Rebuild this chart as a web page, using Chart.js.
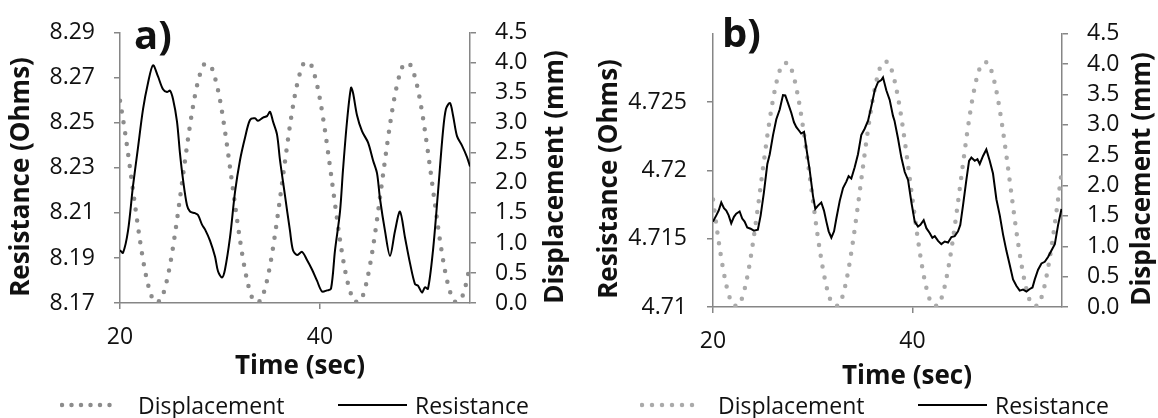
<!DOCTYPE html>
<html>
<head>
<meta charset="utf-8">
<script src="https://cdn.jsdelivr.net/npm/chart.js@4.4.0/dist/chart.umd.min.js"></script>
<style>
  body { margin: 0; background: #fff; }
  #wrap { position: relative; width: 1158px; height: 418px; overflow: hidden; }
  canvas { position: absolute; top: 0; }
  .key { position: absolute; top: 400px; height: 10px; }
  .key svg { display: block; }
  .keytext { position: absolute; top: 391px; font: 23px "Open Sans"; line-height: 28px; color: #111; white-space: nowrap; }
</style>
</head>
<body>
<div id="wrap">
  <canvas id="chartA" width="579" height="418" style="left:0"></canvas>
  <canvas id="chartB" width="579" height="418" style="left:579px"></canvas>

  <div class="key" style="left:60px"><svg width="62" height="10"><line x1="2" y1="5" x2="59" y2="5" stroke="#8c8c8c" stroke-width="4.5" stroke-dasharray="0 9.5" stroke-linecap="round"/></svg></div>
  <div class="keytext" style="left:138px">Displacement</div>
  <div class="key" style="left:338px"><svg width="70" height="10"><line x1="0" y1="5" x2="69" y2="5" stroke="#000" stroke-width="2"/></svg></div>
  <div class="keytext" style="left:415px">Resistance</div>

  <div class="key" style="left:640px"><svg width="66" height="10"><line x1="2" y1="5" x2="62" y2="5" stroke="#aaaaaa" stroke-width="4.5" stroke-dasharray="0 10" stroke-linecap="round"/></svg></div>
  <div class="keytext" style="left:718px">Displacement</div>
  <div class="key" style="left:918px"><svg width="70" height="10"><line x1="0" y1="5" x2="69" y2="5" stroke="#000" stroke-width="2"/></svg></div>
  <div class="keytext" style="left:995px">Resistance</div>
</div>

<script>
// displacement is sampled every 0.5 s, same clock for both runs
const dispTime = [
  20, 20.5, 21, 21.5, 22, 22.5, 23, 23.5, 24, 24.5, 25, 25.5, 26, 26.5, 27, 27.5, 28, 28.5, 29, 29.5,
  30, 30.5, 31, 31.5, 32, 32.5, 33, 33.5, 34, 34.5, 35, 35.5, 36, 36.5, 37, 37.5, 38, 38.5, 39, 39.5,
  40, 40.5, 41, 41.5, 42, 42.5, 43, 43.5, 44, 44.5, 45, 45.5, 46, 46.5, 47, 47.5, 48, 48.5, 49, 49.5,
  50, 50.5, 51, 51.5, 52, 52.5, 53, 53.5, 54, 54.5, 55
];

const dispA = [
  3.37, 2.85, 2.25, 1.63, 1.04, 0.54, 0.19, 0.02, 0.04, 0.25, 0.63, 1.15, 1.75, 2.37, 2.96, 3.46, 3.81, 3.98, 3.96, 3.75,
  3.38, 2.86, 2.26, 1.64, 1.05, 0.55, 0.19, 0.02, 0.03, 0.24, 0.62, 1.14, 1.74, 2.36, 2.96, 3.47, 3.83, 4.01, 3.99, 3.77,
  3.39, 2.87, 2.27, 1.65, 1.05, 0.55, 0.20, 0.02, 0.03, 0.24, 0.63, 1.15, 1.76, 2.38, 2.97, 3.47, 3.82, 3.99, 3.97, 3.76,
  3.38, 2.86, 2.26, 1.64, 1.04, 0.54, 0.19, 0.02, 0.04, 0.25, 0.63
];

const dispB = [
  1.77, 1.16, 0.64, 0.25, 0.04, 0.02, 0.19, 0.55, 1.05, 1.64, 2.27, 2.88, 3.40, 3.79, 4.00, 4.02, 3.85, 3.49, 2.99, 2.40,
  1.78, 1.17, 0.65, 0.26, 0.05, 0.02, 0.18, 0.54, 1.04, 1.63, 2.26, 2.87, 3.40, 3.80, 4.02, 4.04, 3.86, 3.50, 3.00, 2.41,
  1.78, 1.17, 0.64, 0.25, 0.04, 0.02, 0.19, 0.55, 1.05, 1.64, 2.27, 2.88, 3.41, 3.80, 4.01, 4.03, 3.85, 3.49, 2.99, 2.40,
  1.77, 1.16, 0.64, 0.25, 0.04, 0.02, 0.19, 0.55, 1.05, 1.64, 2.27
];

// run a) resistance
const resTimeA = [
  20.0, 20.3, 20.8, 21.3, 21.8, 22.3, 22.8, 23.3, 23.8, 24.3, 24.7, 25.0, 25.3, 25.7, 26.0, 26.3, 26.7, 27.0, 27.5, 27.8,
  28.2, 28.5, 29.0, 29.5, 29.8, 30.2, 30.5, 31.0, 31.5, 32.0, 32.5, 33.0, 33.5, 33.8, 34.3, 34.7, 35.0, 35.3, 35.7, 36.0,
  36.5, 37.0, 37.3, 37.7, 38.2, 38.7, 39.2, 39.7, 40.2, 40.7, 41.1, 41.5, 42.0, 42.3, 42.7, 43.1, 43.3, 43.7, 44.2, 44.8,
  45.3, 45.7, 46.0, 46.5, 47.0, 47.5, 48.0, 48.5, 49.0, 49.5, 49.8, 50.2, 50.5, 50.8, 51.3, 51.8, 52.3, 52.6, 53.0, 53.3,
  53.7, 54.2, 54.7, 55.0
];
const resA = [
  8.1934, 8.1923, 8.2020, 8.2220, 8.2390, 8.2560, 8.2677, 8.2756, 8.2706, 8.2649, 8.2637, 8.2643, 8.2606, 8.2506, 8.2363, 8.2249, 8.2134, 8.2106, 8.2099, 8.2091,
  8.2048, 8.2027, 8.1977, 8.1906, 8.1841, 8.1813, 8.1849, 8.1991, 8.2192, 8.2334, 8.2434, 8.2513, 8.2520, 8.2509, 8.2523, 8.2530, 8.2549, 8.2506, 8.2449, 8.2334,
  8.2177, 8.2020, 8.1934, 8.1913, 8.1927, 8.1891, 8.1849, 8.1799, 8.1751, 8.1756, 8.1763, 8.1934, 8.2106, 8.2291, 8.2506, 8.2656, 8.2634, 8.2534, 8.2463, 8.2413,
  8.2334, 8.2277, 8.2163, 8.2020, 8.1909, 8.2020, 8.2106, 8.1991, 8.1877, 8.1784, 8.1777, 8.1746, 8.1770, 8.1763, 8.1934, 8.2192, 8.2463, 8.2563, 8.2588, 8.2534,
  8.2441, 8.2399, 8.2348, 8.2306
];

// run b) resistance
const resTimeB = [
  20.0, 20.33, 20.57, 20.83, 21.1, 21.33, 21.57, 21.83, 22.1, 22.33,
  22.67, 22.93, 23.17, 23.43, 23.77, 24.1, 24.5, 24.78, 25.1, 25.45,
  25.69, 26.02, 26.35, 26.69, 27.02, 27.25, 27.52, 27.85, 28.12, 28.36,
  28.6, 28.84, 29.13, 29.36, 29.7, 30.03, 30.26, 30.53, 30.86, 31.13,
  31.37, 31.6, 31.87, 32.14, 32.37, 32.71, 33.04, 33.37, 33.6, 33.87,
  34.21, 34.54, 34.87, 35.21, 35.55, 35.88, 36.22, 36.55, 36.88, 37.05,
  37.38, 37.72, 38.05, 38.2, 38.55, 38.89, 39.23, 39.56, 39.9, 40.23,
  40.56, 40.8, 41.13, 41.4, 41.73, 42.0, 42.24, 42.57, 42.9, 43.24,
  43.57, 43.91, 44.24, 44.57, 44.8, 45.07, 45.41, 45.68, 45.91, 46.25,
  46.52, 46.75, 47.08, 47.41, 47.75, 48.08, 48.42, 48.76, 49.09, 49.42,
  49.76, 50.09, 50.42, 50.76, 51.1, 51.43, 51.77, 52.04, 52.27, 52.6,
  52.94, 53.27, 53.6, 53.94, 54.28, 54.61, 54.95
];
const resB = [
  4.71625, 4.71671, 4.71706, 4.71765, 4.71723, 4.71706, 4.71671, 4.71613, 4.71660, 4.71683,
  4.71699, 4.71648, 4.71625, 4.71582, 4.71573, 4.71559, 4.71566, 4.71671, 4.71836, 4.72047,
  4.72118, 4.72258, 4.72375, 4.72446, 4.72551, 4.72549, 4.72493, 4.72422, 4.72352, 4.72317,
  4.72294, 4.72270, 4.72282, 4.72164, 4.72000, 4.71812, 4.71718, 4.71742, 4.71765, 4.71706,
  4.71625, 4.71554, 4.71507, 4.71554, 4.71648, 4.71777, 4.71871, 4.71918, 4.71958, 4.71941,
  4.72023, 4.72118, 4.72258, 4.72305, 4.72364, 4.72470, 4.72587, 4.72646, 4.72662, 4.72681,
  4.72587, 4.72516, 4.72399, 4.72364, 4.72235, 4.72094, 4.71988, 4.71930, 4.71765, 4.71625,
  4.71589, 4.71601, 4.71636, 4.71577, 4.71542, 4.71507, 4.71519, 4.71484, 4.71460, 4.71479,
  4.71472, 4.71512, 4.71519, 4.71554, 4.71601, 4.71742, 4.71930, 4.72070, 4.72094, 4.72070,
  4.72082, 4.72047, 4.72106, 4.72153, 4.72070, 4.71977, 4.71789, 4.71671, 4.71530, 4.71413,
  4.71308, 4.71202, 4.71155, 4.71120, 4.71127, 4.71113, 4.71132, 4.71143, 4.71202, 4.71273,
  4.71319, 4.71331, 4.71366, 4.71413, 4.71460, 4.71601, 4.71718
];

const textColor = '#111';
const axisColor = '#868686';
const tickFont = { family: 'Open Sans', size: 23 };

// axis titles and the panel letter; both y titles read bottom to top
const panelText = {
  id: 'panelText',
  afterDraw(chart, args, opts) {
    const ctx = chart.ctx;
    ctx.save();
    ctx.fillStyle = textColor;
    ctx.textAlign = 'center';
    ctx.textBaseline = 'middle';
    ctx.font = 'bold 26px "Open Sans"';
    ctx.fillText('Time (sec)', opts.timeX, opts.timeY);
    [['Resistance (Ohms)', opts.leftX], ['Displacement (mm)', opts.rightX]].forEach(([txt, x]) => {
      ctx.save();
      ctx.translate(x, opts.midY);
      ctx.rotate(-Math.PI / 2);
      ctx.fillText(txt, 0, 0);
      ctx.restore();
    });
    ctx.font = 'bold 40px "Open Sans"';
    ctx.textAlign = 'left';
    ctx.textBaseline = 'alphabetic';
    ctx.fillText(opts.letter, chart.chartArea.left + opts.letterDx, opts.letterY);
    ctx.restore();
  }
};

function pairs(xs, ys) {
  return xs.map((x, i) => ({ x: x, y: ys[i] }));
}

function drawPanel(id, p) {
  const ctx = document.getElementById(id).getContext('2d');
  new Chart(ctx, {
    type: 'line',
    data: {
      datasets: [
        {
          label: 'Resistance',
          data: pairs(p.resTime, p.res),
          yAxisID: 'y',
          borderColor: '#000',
          borderWidth: 2,
          pointRadius: 0,
          tension: p.tension,
          fill: false,
        },
        {
          label: 'Displacement',
          data: pairs(dispTime, p.disp),
          yAxisID: 'y2',
          borderColor: p.dotColor,
          borderWidth: 4.5,
          borderDash: [0, 11],
          borderCapStyle: 'round',
          pointRadius: 0,
          cubicInterpolationMode: 'monotone',
          fill: false,
        },
      ],
    },
    options: {
      responsive: false,
      animation: false,
      devicePixelRatio: 1,
      layout: { padding: { left: 0, right: 0, top: 23, bottom: p.padBottom } },
      plugins: {
        legend: { display: false },
        tooltip: { enabled: false },
        panelText: p.text,
      },
      scales: {
        x: {
          type: 'linear',
          position: 'bottom',
          min: 20,
          max: 55,
          afterFit: s => { s.height = 60; },
          ticks: { stepSize: 20, includeBounds: false, maxRotation: 0, autoSkip: false, padding: 15, color: textColor, font: tickFont },
          grid: { drawOnChartArea: false, tickLength: 6, color: axisColor, lineWidth: 1.5 },
          border: { color: axisColor, width: 1.5 },
        },
        y: {
          position: 'left',
          min: p.resMin,
          max: p.resMax,
          afterFit: s => { s.width = p.leftWidth; },
          ticks: { stepSize: p.resStep, autoSkip: false, padding: p.leftPad, color: textColor, font: tickFont, callback: p.resLabel },
          grid: { drawOnChartArea: false, tickLength: 6, color: axisColor, lineWidth: 1.5 },
          border: { color: axisColor, width: 1.5 },
        },
        y2: {
          position: 'right',
          min: 0,
          max: 4.5,
          afterFit: s => { s.width = p.rightWidth; },
          ticks: { stepSize: 0.5, autoSkip: false, padding: 19, color: textColor, font: tickFont, callback: v => v.toFixed(1) },
          grid: { drawOnChartArea: false, tickLength: 6, color: axisColor, lineWidth: 1.5 },
          border: { color: axisColor, width: 1.5 },
        },
      },
    },
    plugins: [panelText],
  });
}

drawPanel('chartA', {
  resTime: resTimeA, res: resA, disp: dispA,
  dotColor: '#8c8c8c', tension: 0.3,
  resMin: 8.17, resMax: 8.29, resStep: 0.02,
  resLabel: v => v.toFixed(2),
  leftWidth: 120, rightWidth: 109, leftPad: 19, padBottom: 55,
  text: { letter: 'a)', letterDx: 14, letterY: 49, timeX: 300, timeY: 367, leftX: 22, rightX: 556, midY: 177 },
});

drawPanel('chartB', {
  resTime: resTimeB, res: resB, disp: dispB,
  dotColor: '#aaaaaa', tension: 0,
  resMin: 4.71, resMax: 4.73, resStep: 0.005,
  // top value has no label or tick
  resLabel: v => (Math.abs(v - 4.73) < 1e-9 ? null : String(parseFloat(v.toFixed(3)))),
  leftWidth: 134, rightWidth: 96, leftPad: 20, padBottom: 51,
  text: { letter: 'b)', letterDx: 9, letterY: 47, timeX: 328, timeY: 377, leftX: 31, rightX: 564, midY: 179 },
});
</script>
</body>
</html>
